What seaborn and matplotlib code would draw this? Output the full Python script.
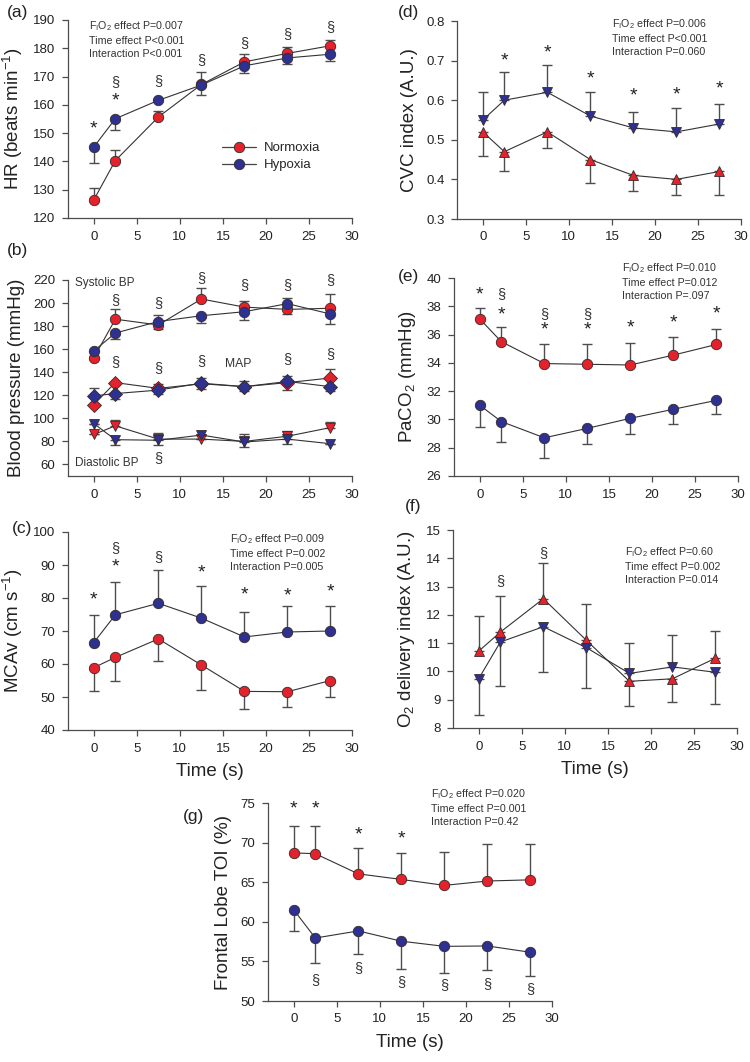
import matplotlib
matplotlib.use("Agg")
import matplotlib.pyplot as plt
from matplotlib.lines import Line2D
import seaborn as sns

# time points (s)
time = [0, 2.5, 7.5, 12.5, 17.5, 22.5, 27.5]

# (a) heart rate; *_cap = end of the (one-sided) error bar
hr_norm = [126.4, 140.3, 155.7, 167.2, 175.2, 178.2, 180.9]
hr_norm_cap = [130.5, 144.2, 157.7, 171.6, 178.0, 180.6, 182.8]
hr_hyp = [145.1, 155.1, 161.6, 167.0, 173.8, 176.6, 177.9]
hr_hyp_cap = [139.4, 151.2, 161.6, 163.4, 171.4, 174.4, 175.4]
hr_marks = [(0, 151.5, "*"), (2.5, 161.5, "*"), (2.5, 168, "§"), (7.5, 168.5, "§"),
            (12.5, 176, "§"), (17.5, 182, "§"), (22.5, 185, "§"), (27.5, 187.5, "§")]

# (b) blood pressure
sys_norm = [152.5, 186.0, 181.0, 203.5, 196.5, 194.5, 195.5]
sys_norm_cap = [152.5, 194.5, 177.5, 213.0, 202.0, 190.5, 207.5]
sys_hyp = [158.5, 174.0, 184.0, 189.0, 192.5, 199.5, 190.5]
sys_hyp_cap = [158.5, 169.0, 189.5, 183.0, 185.5, 204.5, 181.5]
map_norm = [112.0, 131.0, 126.0, 130.0, 127.5, 131.0, 135.0]
map_norm_cap = [112.0, 131.0, 130.0, 135.0, 132.0, 137.0, 142.5]
map_hyp = [119.5, 121.5, 124.5, 130.5, 127.5, 132.0, 127.5]
map_hyp_cap = [126.5, 117.0, 121.5, 125.5, 124.0, 124.5, 123.5]
dia_norm = [86.0, 93.5, 82.0, 82.0, 80.0, 84.5, 92.0]
dia_norm_cap = [86.0, 99.0, 87.0, 82.0, 86.5, 89.0, 97.0]
dia_hyp = [95.5, 81.5, 81.0, 85.5, 79.5, 82.0, 78.0]
dia_hyp_cap = [95.5, 77.0, 77.0, 85.5, 75.5, 77.5, 78.0]
bp_marks = [(2.5, 203, "§"), (7.5, 200, "§"), (12.5, 221.5, "§"), (17.5, 215.5, "§"),
            (22.5, 215.5, "§"), (27.5, 220, "§"),
            (2.5, 149, "§"), (7.5, 143.5, "§"), (12.5, 149.5, "§"), (22.5, 151.5, "§"),
            (27.5, 156, "§"), (7.5, 65.5, "§")]

# (c) MCAv
mca_norm = [58.9, 62.0, 67.6, 59.7, 51.7, 51.6, 55.0]
mca_norm_cap = [51.8, 55.0, 61.0, 52.2, 46.5, 47.1, 49.9]
mca_hyp = [66.5, 74.9, 78.4, 73.9, 68.2, 69.7, 70.0]
mca_hyp_cap = [75.0, 85.0, 88.5, 83.6, 75.8, 77.5, 77.7]
mca_marks = [(0, 79.5, "*"), (2.5, 89.3, "*"), (2.5, 95.2, "§"), (7.5, 92.5, "§"),
             (12.5, 87.5, "*"), (17.5, 80.8, "*"), (22.5, 80.5, "*"), (27.5, 81.7, "*")]

# (d) CVC index
cvc_norm = [0.52, 0.47, 0.52, 0.45, 0.41, 0.40, 0.42]
cvc_norm_cap = [0.46, 0.42, 0.48, 0.39, 0.37, 0.36, 0.36]
cvc_hyp = [0.55, 0.60, 0.62, 0.56, 0.53, 0.52, 0.54]
cvc_hyp_cap = [0.62, 0.67, 0.69, 0.62, 0.57, 0.58, 0.59]
cvc_marks = [(2.5, 0.70, "*"), (7.5, 0.72, "*"), (12.5, 0.653, "*"), (17.5, 0.61, "*"),
             (22.5, 0.614, "*"), (27.5, 0.628, "*")]

# (e) PaCO2
co2_norm = [37.1, 35.5, 33.95, 33.9, 33.85, 34.55, 35.3]
co2_norm_cap = [37.9, 36.55, 35.35, 35.35, 35.4, 35.85, 36.4]
co2_hyp = [31.0, 29.85, 28.7, 29.37, 30.08, 30.72, 31.35]
co2_hyp_cap = [29.5, 28.4, 27.3, 28.24, 28.97, 29.7, 30.41]
co2_marks = [(0, 38.8, "*"), (2.5, 38.9, "§"), (2.5, 37.4, "*"), (7.5, 37.45, "§"),
             (7.5, 36.35, "*"), (12.5, 37.45, "§"), (12.5, 36.35, "*"), (17.5, 36.45, "*"),
             (22.5, 36.85, "*"), (27.5, 37.45, "*")]

# (f) O2 delivery index
o2_norm = [10.72, 11.39, 12.57, 11.1, 9.65, 9.74, 10.47]
o2_norm_cap = [11.96, 12.65, 13.83, 12.4, 8.77, 8.92, 11.43]
o2_hyp = [9.75, 11.04, 11.58, 10.84, 9.93, 10.16, 9.97]
o2_hyp_cap = [8.47, 9.48, 9.99, 9.42, 11.01, 11.29, 8.84]
o2_marks = [(2.5, 13.2, "§"), (7.5, 14.2, "§")]

# (g) frontal lobe TOI
toi_norm = [68.7, 68.6, 66.05, 65.35, 64.6, 65.15, 65.3]
toi_norm_cap = [72.1, 72.1, 69.3, 68.75, 68.8, 69.8, 69.8]
toi_hyp = [61.5, 57.95, 58.85, 57.55, 56.9, 56.95, 56.15]
toi_hyp_cap = [58.9, 54.75, 55.9, 54.1, 53.55, 53.9, 53.15]
toi_marks = [(0, 74.3, "*"), (2.5, 74.3, "*"), (7.5, 71.0, "*"), (12.5, 70.5, "*"),
             (2.5, 52.7, "§"), (7.5, 54.1, "§"), (12.5, 52.4, "§"), (17.5, 52.0, "§"),
             (22.5, 52.2, "§"), (27.5, 51.5, "§")]

RED = "#e3222b"
NAVY = "#2d318f"
GREY = "#4d4d4d"
FI = r"F$_\mathregular{I}$O$_\mathregular{2}$"

sns.set_theme(style="ticks")
plt.rcParams["font.family"] = ["Liberation Sans", "DejaVu Sans"]
plt.rcParams["mathtext.fontset"] = "custom"
plt.rcParams["mathtext.rm"] = "Liberation Sans"


def series(ax, y, cap, color, marker, ms=7.5):
    lo = [max(0, v - c) for v, c in zip(y, cap)]
    hi = [max(0, c - v) for v, c in zip(y, cap)]
    ax.errorbar(time, y, yerr=[lo, hi], fmt="none", ecolor=GREY, elinewidth=1.0,
                capsize=3.5, capthick=1.0, zorder=2)
    sns.lineplot(x=time, y=y, ax=ax, color="#333333", lw=0.8, marker=marker,
                 markersize=ms, markerfacecolor=color, markeredgecolor="#3a2a2a",
                 markeredgewidth=0.6, zorder=3)


def style(ax, ylim, yticks, ylabel, xlabel=None):
    ax.set_xlim(-3, 30)
    ax.set_ylim(*ylim)
    ax.set_xticks(range(0, 31, 5))
    ax.set_yticks(yticks)
    for s in ["top", "right"]:
        ax.spines[s].set_visible(False)
    for s in ["left", "bottom"]:
        ax.spines[s].set_color(GREY)
        ax.spines[s].set_linewidth(0.9)
    ax.tick_params(direction="out", length=4, width=0.9, color=GREY,
                   labelsize=9.5, labelcolor="#222222", pad=5)
    ax.set_ylabel(ylabel, fontsize=13.5, color="#222222", labelpad=6)
    if xlabel:
        ax.set_xlabel(xlabel, fontsize=13.5, color="#222222", labelpad=6)
    else:
        ax.set_xlabel("")


def marks(ax, items):
    for x, y, s in items:
        if s == "*":
            ax.text(x, y, s, ha="center", va="center", fontsize=14, color="#222222",
                    clip_on=False)
        else:
            ax.text(x, y, s, ha="center", va="center", fontsize=10.5, color="#333333",
                    clip_on=False)


def stats(ax, x, y, p1, p2, p3):
    ax.text(x, y, f"{FI} effect P={p1}\nTime effect P{p2}\nInteraction P{p3}",
            transform=ax.transAxes, ha="left", va="top", fontsize=7.7,
            color="#333333", linespacing=1.4)


fig = plt.figure(figsize=(7.5, 10.62), dpi=100)
W, H = 750, 1062


def make_axes(left, top, right, bottom):
    return fig.add_axes([left / W, 1 - bottom / H, (right - left) / W, (bottom - top) / H])


ax_a = make_axes(68, 20, 352, 218)
ax_b = make_axes(68, 280, 352, 476)
ax_c = make_axes(68, 532, 352, 730)
ax_d = make_axes(457, 21, 741, 219)
ax_e = make_axes(454, 278, 738, 476)
ax_f = make_axes(453, 530, 737, 728)
ax_g = make_axes(268, 803, 552, 1001)

# (a)
series(ax_a, hr_norm, hr_norm_cap, RED, "o")
series(ax_a, hr_hyp, hr_hyp_cap, NAVY, "o")
style(ax_a, (120, 190), range(120, 191, 10), r"HR (beats min$^{\mathregular{-1}}$)")
marks(ax_a, hr_marks)
stats(ax_a, 0.075, 1.005, "0.007", "<0.001", "<0.001")
handles = [Line2D([], [], color="#444444", lw=0.9, marker="o", markersize=7.5,
                  markerfacecolor=c, markeredgecolor="#3a2a2a", markeredgewidth=0.6)
           for c in (RED, NAVY)]
ax_a.legend(handles, ["Normoxia", "Hypoxia"], loc="center left",
            bbox_to_anchor=(0.5, 0.31), frameon=False, fontsize=9.5,
            handlelength=2.6, labelspacing=0.35, handletextpad=0.6)

# (b)
series(ax_b, sys_norm, sys_norm_cap, RED, "o")
series(ax_b, sys_hyp, sys_hyp_cap, NAVY, "o")
series(ax_b, map_norm, map_norm_cap, RED, "D", ms=6.8)
series(ax_b, map_hyp, map_hyp_cap, NAVY, "D", ms=6.8)
series(ax_b, dia_norm, dia_norm_cap, RED, "v", ms=7)
series(ax_b, dia_hyp, dia_hyp_cap, NAVY, "v", ms=7)
style(ax_b, (50, 220), range(60, 221, 20), "Blood pressure (mmHg)")
marks(ax_b, bp_marks)
ax_b.text(-2.2, 217, "Systolic BP", fontsize=8.5, color="#333333", va="center")
ax_b.text(16.8, 147.5, "MAP", fontsize=8.7, color="#333333", ha="center", va="center")
ax_b.text(-2.2, 61, "Diastolic BP", fontsize=8.5, color="#333333", va="center")

# (c)
series(ax_c, mca_norm, mca_norm_cap, RED, "o")
series(ax_c, mca_hyp, mca_hyp_cap, NAVY, "o")
style(ax_c, (40, 100), range(40, 101, 10), r"MCAv (cm s$^{\mathregular{-1}}$)", "Time (s)")
marks(ax_c, mca_marks)
stats(ax_c, 0.57, 1.0, "0.009", "=0.002", "=0.005")

# (d)
series(ax_d, cvc_norm, cvc_norm_cap, RED, "^", ms=7)
series(ax_d, cvc_hyp, cvc_hyp_cap, NAVY, "v", ms=7)
style(ax_d, (0.3, 0.8), [0.3, 0.4, 0.5, 0.6, 0.7, 0.8], "CVC index (A.U.)")
marks(ax_d, cvc_marks)
stats(ax_d, 0.545, 1.02, "0.006", "<0.001", "=0.060")

# (e)
series(ax_e, co2_norm, co2_norm_cap, RED, "o")
series(ax_e, co2_hyp, co2_hyp_cap, NAVY, "o")
style(ax_e, (26, 40), range(26, 41, 2), r"PaCO$_\mathregular{2}$ (mmHg)")
marks(ax_e, co2_marks)
stats(ax_e, 0.59, 1.085, "0.010", "=0.012", "=.097")

# (f)
series(ax_f, o2_norm, o2_norm_cap, RED, "^", ms=7)
series(ax_f, o2_hyp, o2_hyp_cap, NAVY, "v", ms=7)
style(ax_f, (8, 15), range(8, 16), r"O$_\mathregular{2}$ delivery index (A.U.)", "Time (s)")
marks(ax_f, o2_marks)
stats(ax_f, 0.605, 0.925, "0.60", "=0.002", "=0.014")

# (g)
series(ax_g, toi_norm, toi_norm_cap, RED, "o")
series(ax_g, toi_hyp, toi_hyp_cap, NAVY, "o")
style(ax_g, (50, 75), range(50, 76, 5), "Frontal Lobe TOI (%)", "Time (s)")
marks(ax_g, toi_marks)
stats(ax_g, 0.575, 1.08, "0.020", "=0.001", "=0.42")

# panel letters
for lab, x, y in [("(a)", 18, 13), ("(b)", 18, 250), ("(c)", 22, 529), ("(d)", 408, 12),
                  ("(e)", 408, 276), ("(f)", 413, 507), ("(g)", 193, 817)]:
    fig.text(x / W, 1 - y / H, lab, fontsize=12.5, ha="center", va="center", color="#222222")

fig.savefig("out.png", dpi=100)
